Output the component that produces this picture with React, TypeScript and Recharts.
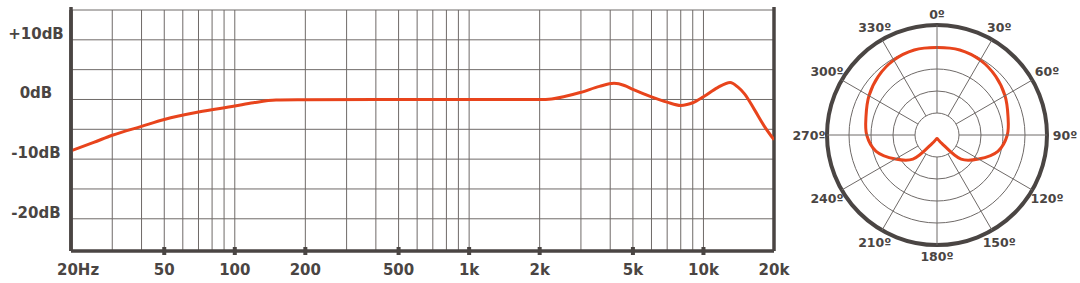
import React from "react";
import {
  CartesianGrid,
  Line,
  LineChart,
  PolarAngleAxis,
  PolarGrid,
  PolarRadiusAxis,
  Radar,
  RadarChart,
  ReferenceLine,
  XAxis,
  YAxis,
} from "recharts";

const INK = "#4a4543";
const GRID = "#6f6a68";
const CURVE = "#e8441c";
const FONT = "'DejaVu Sans', sans-serif";

// frequency response (Hz / dB)
const freqHz = [
  20, 25, 30, 40, 50, 70, 100, 120, 150, 200, 400, 1000, 2000, 2250, 3000,
  3600, 4150, 4600, 5000, 6000, 7000, 8000, 8500, 9000, 10000, 11500, 13000,
  14000, 15000, 16500, 18200, 20000,
];
const levelDb = [
  -8.6, -7.2, -6.0, -4.5, -3.35, -2.1, -1.1, -0.55, -0.1, -0.05, 0, 0, 0, 0.1,
  1.2, 2.2, 2.7, 2.35, 1.7, 0.45, -0.45, -1.0, -0.85, -0.55, 0.45, 2.0, 2.85,
  2.1, 0.9, -1.7, -4.5, -6.75,
];

const freqGridTicks = [
  20, 30, 40, 50, 60, 70, 80, 90, 100, 200, 300, 400, 500, 600, 700, 800, 900,
  1000, 2000, 3000, 4000, 5000, 6000, 7000, 8000, 9000, 10000, 20000,
];
const freqLabelTicks = [20, 50, 100, 200, 500, 1000, 2000, 5000, 10000, 20000];
const freqLabels = ["20Hz", "50", "100", "200", "500", "1k", "2k", "5k", "10k", "20k"];

const dbGridTicks = [-20, -15, -10, -5, 0, 5, 10, 15];
const dbLabelTicks = [-20, -10, 0, 10];
const dbLabels = ["-20dB", "-10dB", "0dB", "+10dB"];

// polar pattern, relative radius every 15 degrees
const polarAngles = [
  0, 15, 30, 45, 60, 75, 90, 105, 120, 135, 150, 165, 180, 195, 210, 225, 240,
  255, 270, 285, 300, 315, 330, 345,
];
const polarLevels = [
  0.795, 0.8, 0.786, 0.755, 0.714, 0.668, 0.639, 0.573, 0.436, 0.31, 0.087,
  0.045, 0.032, 0.045, 0.087, 0.31, 0.436, 0.573, 0.639, 0.668, 0.714, 0.755,
  0.786, 0.8,
];
const polarTickAngles = [0, 30, 60, 90, 120, 150, 180, 210, 240, 270, 300, 330];
const ringLevels = [0.2, 0.4, 0.6, 0.8, 1];

const freqData = freqHz.map((f, i) => ({ f, db: levelDb[i] }));
const polarData = polarAngles.map((angle, i) => ({ angle, r: polarLevels[i] }));

const OUTER_R = 110;
const SPOKE_START = 22;
const LABEL_R = 121;

const labelStyle = { fontFamily: FONT, fontWeight: 700, fill: INK };

function FreqTick(props: any) {
  const { x, y, payload } = props;
  const i = freqLabelTicks.indexOf(payload.value);
  if (i < 0) return <g />;
  const first = i === 0;
  const last = i === freqLabelTicks.length - 1;
  return (
    <g>
      {!first && !last && <rect x={x - 2} y={y - 4} width={4} height={8} fill={INK} />}
      <text
        x={first ? x - 14 : x}
        y={y + 19}
        textAnchor={first ? "start" : "middle"}
        dominantBaseline="central"
        fontSize={15}
        style={labelStyle}
      >
        {freqLabels[i]}
      </text>
    </g>
  );
}

function DbTick(props: any) {
  const { x, y, payload } = props;
  const i = dbLabelTicks.indexOf(payload.value);
  if (i < 0) return <g />;
  return (
    <text
      x={x - 35}
      y={y - 6}
      textAnchor="middle"
      dominantBaseline="central"
      fontSize={15}
      style={labelStyle}
    >
      {dbLabels[i]}
    </text>
  );
}

function AngleTick(props: any) {
  const { x, y, payload } = props;
  const rad = (-payload.coordinate * Math.PI) / 180;
  // side labels sit a little further out because they are wider than tall
  const d = LABEL_R + 7 * Math.abs(Math.cos(rad)) - SPOKE_START;
  return (
    <text
      x={x + Math.cos(rad) * d}
      y={y + Math.sin(rad) * d}
      textAnchor="middle"
      dominantBaseline="central"
      fontSize={12.5}
      style={labelStyle}
    >
      {`${payload.value}º`}
    </text>
  );
}

// smooth closed curve through the radar points (centripetal Catmull-Rom)
function SmoothRadar(props: any) {
  const pts: { x: number; y: number }[] = props.points || [];
  const n = pts.length;
  if (n < 3) return <g />;
  let d = `M${pts[0].x},${pts[0].y}`;
  for (let i = 0; i < n; i++) {
    const p0 = pts[(i - 1 + n) % n];
    const p1 = pts[i];
    const p2 = pts[(i + 1) % n];
    const p3 = pts[(i + 2) % n];
    const d01 = Math.hypot(p1.x - p0.x, p1.y - p0.y);
    const d12 = Math.hypot(p2.x - p1.x, p2.y - p1.y);
    const d23 = Math.hypot(p3.x - p2.x, p3.y - p2.y);
    const a01 = Math.sqrt(d01);
    const a12 = Math.sqrt(d12);
    const a23 = Math.sqrt(d23);
    let c1x = p1.x;
    let c1y = p1.y;
    let c2x = p2.x;
    let c2y = p2.y;
    if (a01 > 1e-6) {
      const a = 2 * d01 + 3 * a01 * a12 + d12;
      const m = 3 * a01 * (a01 + a12);
      c1x = (p1.x * a - p0.x * d12 + p2.x * d01) / m;
      c1y = (p1.y * a - p0.y * d12 + p2.y * d01) / m;
    }
    if (a23 > 1e-6) {
      const b = 2 * d23 + 3 * a23 * a12 + d12;
      const m = 3 * a23 * (a23 + a12);
      c2x = (p2.x * b + p1.x * d23 - p3.x * d12) / m;
      c2y = (p2.y * b + p1.y * d23 - p3.y * d12) / m;
    }
    d += `C${c1x},${c1y},${c2x},${c2y},${p2.x},${p2.y}`;
  }
  return <path d={d + "Z"} fill="none" stroke={CURVE} strokeWidth={3} strokeLinejoin="round" />;
}

export default function App() {
  return (
    <div
      style={{
        position: "absolute",
        left: 0,
        top: 0,
        width: 1080,
        height: 283,
        background: "#fff",
      }}
    >
      <div style={{ position: "absolute", left: 0, top: 0 }}>
        <LineChart
          width={792}
          height={283}
          data={freqData}
          margin={{ top: 10, right: 18, bottom: 0, left: 0 }}
        >
          <CartesianGrid stroke={GRID} strokeWidth={1} />
          <XAxis
            dataKey="f"
            type="number"
            scale="log"
            domain={[20, 20000]}
            ticks={freqGridTicks}
            interval={0}
            height={32}
            tickSize={0}
            tickMargin={0}
            tickLine={false}
            tick={<FreqTick />}
            axisLine={{ stroke: INK, strokeWidth: 3.5 }}
            allowDataOverflow
          />
          <YAxis
            type="number"
            domain={[-25.4, 15]}
            ticks={dbGridTicks}
            interval={0}
            width={71}
            tickSize={0}
            tickMargin={0}
            tickLine={false}
            tick={<DbTick />}
            axisLine={{ stroke: INK, strokeWidth: 3.5 }}
            allowDataOverflow
          />
          <ReferenceLine
            segment={[
              { x: 20, y: 15.5 },
              { x: 20, y: -25.4 },
            ]}
            stroke={INK}
            strokeWidth={3.5}
            ifOverflow="visible"
          />
          <ReferenceLine
            segment={[
              { x: 20000, y: 15.5 },
              { x: 20000, y: -25.4 },
            ]}
            stroke={INK}
            strokeWidth={3.5}
            ifOverflow="visible"
          />
          <Line
            dataKey="db"
            type="monotone"
            stroke={CURVE}
            strokeWidth={3}
            dot={false}
            isAnimationActive={false}
          />
        </LineChart>
      </div>
      <div style={{ position: "absolute", left: 792, top: 0 }}>
        <RadarChart
          width={288}
          height={283}
          data={polarData}
          cx={145}
          cy={135}
          outerRadius={OUTER_R}
          margin={{ top: 0, right: 0, bottom: 0, left: 0 }}
        >
          <PolarGrid gridType="circle" radialLines={false} stroke={GRID} strokeWidth={1} />
          <PolarRadiusAxis
            type="number"
            domain={[0, 1]}
            ticks={ringLevels as any}
            tick={false}
            axisLine={false}
          />
          <PolarAngleAxis
            dataKey="angle"
            type="number"
            domain={[0, 360]}
            ticks={polarTickAngles as any}
            axisLineType="circle"
            axisLine={{ stroke: INK, strokeWidth: 4 }}
            orientation="inner"
            tickSize={OUTER_R - SPOKE_START}
            tickLine={{ stroke: GRID, strokeWidth: 1 }}
            tick={<AngleTick />}
          />
          <Radar
            dataKey="r"
            stroke={CURVE}
            fill="none"
            strokeWidth={3}
            dot={false}
            shape={<SmoothRadar />}
            isAnimationActive={false}
          />
        </RadarChart>
      </div>
    </div>
  );
}
